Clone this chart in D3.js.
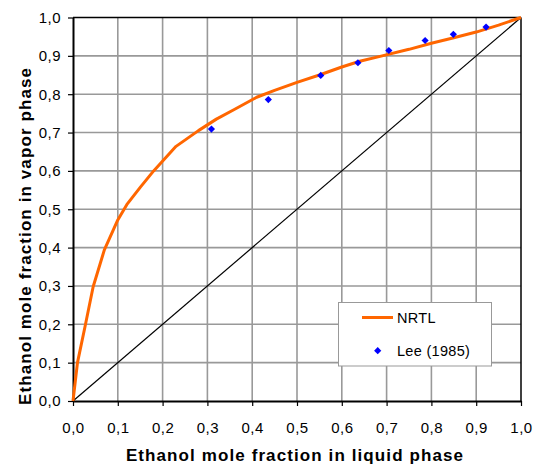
<!DOCTYPE html>
<html><head><meta charset="utf-8">
<script src="https://cdn.jsdelivr.net/npm/d3@7"></script>
<style>html,body{margin:0;padding:0;background:#fff;}svg{display:block;}</style>
</head><body>
<script>
const nrtlX = [0, 0.01, 0.027, 0.045, 0.07, 0.1, 0.12, 0.15, 0.18, 0.23, 0.28, 0.32, 0.36, 0.41, 0.45, 0.5, 0.55, 0.6, 0.64, 0.69, 0.75, 0.8, 0.85, 0.9, 0.95, 1.0];
const nrtlY = [0, 0.1, 0.195, 0.298, 0.394, 0.472, 0.512, 0.557, 0.6, 0.664, 0.705, 0.735, 0.76, 0.792, 0.81, 0.831, 0.85, 0.871, 0.886, 0.9, 0.917, 0.933, 0.947, 0.962, 0.98, 1.0];
const leeX = [0.309, 0.436, 0.553, 0.636, 0.705, 0.786, 0.849, 0.922];
const leeY = [0.709, 0.786, 0.849, 0.882, 0.914, 0.940, 0.956, 0.975];
const tickValues = [0,0.1,0.2,0.3,0.4,0.5,0.6,0.7,0.8,0.9,1.0];
const tickLabels = ["0,0","0,1","0,2","0,3","0,4","0,5","0,6","0,7","0,8","0,9","1,0"];
const seriesNames = ["NRTL","Lee (1985)"];
const xTitle = "Ethanol mole fraction in liquid phase";
const yTitle = "Ethanol mole fraction in vapor phase";

const W = 535, H = 464;
const L = 73, R = 521, T = 17.5, B = 401;
const svg = d3.select("body").append("svg").attr("width", W).attr("height", H)
  .style("font-family", "'Liberation Sans', Arial, sans-serif");

const x = d3.scaleLinear().domain([0,1]).range([L,R]);
const y = d3.scaleLinear().domain([0,1]).range([B,T]);

// grid
const grid = svg.append("g");
tickValues.slice(1,-1).forEach(v => {
  grid.append("line").attr("x1", x(v)).attr("x2", x(v)).attr("y1", T).attr("y2", B)
    .attr("stroke", "#999").attr("stroke-width", 1.6);
  grid.append("line").attr("x1", L).attr("x2", R).attr("y1", y(v)).attr("y2", y(v))
    .attr("stroke", "#999").attr("stroke-width", 1.6);
});
// top/right border
svg.append("line").attr("x1", L).attr("x2", R).attr("y1", T).attr("y2", T).attr("stroke", "#000").attr("stroke-width", 1.5);
svg.append("line").attr("x1", R).attr("x2", R).attr("y1", T).attr("y2", B).attr("stroke", "#000").attr("stroke-width", 1.5);

// axes
const xAxis = svg.append("g").attr("transform", `translate(0,${B})`)
  .call(d3.axisBottom(x).tickValues(tickValues).tickFormat((d,i)=>tickLabels[i]).tickSizeInner(5).tickSizeOuter(0).tickPadding(16));
const yAxis = svg.append("g").attr("transform", `translate(${L},0)`)
  .call(d3.axisLeft(y).tickValues(tickValues).tickFormat((d,i)=>tickLabels[i]).tickSizeInner(5).tickSizeOuter(0).tickPadding(7));
[xAxis, yAxis].forEach(a => {
  a.select(".domain").attr("stroke", "#000").attr("stroke-width", 2);
  a.selectAll(".tick line").attr("stroke", "#000").attr("stroke-width", 1.2);
  a.selectAll(".tick text").attr("fill", "#000").style("font-size", "15px").style("letter-spacing", "0.5px")
    .style("font-family", "'Liberation Sans', Arial, sans-serif");
});

// diagonal
svg.append("line").attr("x1", x(0)).attr("y1", y(0)).attr("x2", x(1)).attr("y2", y(1))
  .attr("stroke", "#000").attr("stroke-width", 1.2);

// NRTL curve
const pts = nrtlX.map((v,i)=>[v, nrtlY[i]]);
svg.append("path").datum(pts)
  .attr("d", d3.line().x(d=>x(d[0])).y(d=>y(d[1])))
  .attr("fill", "none").attr("stroke", "#ff6600").attr("stroke-width", 3).attr("stroke-linejoin", "round");

// Lee points
const diamond = s => `M0,${-s}L${s},0L0,${s}L${-s},0Z`;
svg.append("g").selectAll("path").data(leeX.map((v,i)=>[v, leeY[i]])).join("path")
  .attr("transform", d => `translate(${x(d[0])},${y(d[1])})`)
  .attr("d", diamond(3.6)).attr("fill", "#0000ff");

// legend
const lg = svg.append("g");
lg.append("rect").attr("x", 338.5).attr("y", 302.5).attr("width", 153).attr("height", 63.5)
  .attr("fill", "#fff").attr("stroke", "#999").attr("stroke-width", 1);
lg.append("line").attr("x1", 362).attr("x2", 393).attr("y1", 317.5).attr("y2", 317.5)
  .attr("stroke", "#ff6600").attr("stroke-width", 3);
lg.append("text").attr("x", 397).attr("y", 323).text(seriesNames[0]).style("font-size", "14.5px").style("letter-spacing", "0.3px");
lg.append("path").attr("transform", "translate(377.7,350.7)").attr("d", diamond(3.6)).attr("fill", "#0000ff");
lg.append("text").attr("x", 397).attr("y", 356).text(seriesNames[1]).style("font-size", "14.5px").style("letter-spacing", "0.3px");

// titles
svg.append("text").attr("x", 295).attr("y", 461).attr("text-anchor", "middle")
  .style("font-size", "17px").style("font-weight", "bold").style("letter-spacing", "1.1px").text(xTitle);
svg.append("text").attr("transform", "translate(31,236) rotate(-90)").attr("text-anchor", "middle")
  .style("font-size", "17px").style("font-weight", "bold").style("letter-spacing", "1.1px").text(yTitle);
</script>
</body></html>
